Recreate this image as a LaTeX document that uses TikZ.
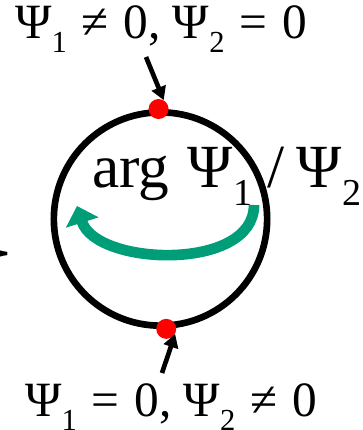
\documentclass[tikz,border=0pt]{standalone}
\usepackage{fontspec}
\setmainfont{Liberation Serif}
\newfontfamily\symbfont{DejaVu Sans}
\usetikzlibrary{positioning, arrows.meta}
\definecolor{phasegreen}{HTML}{009E78}
\definecolor{dotred}{HTML}{FF0000}
\newcommand{\psub}[1]{\raisebox{-0.3em}{\scalebox{0.62}{#1}}}
\newcommand{\rel}[1]{\hspace{0.3em}#1\hspace{0.3em}}

\begin{document}
\begin{tikzpicture}[x=0.75pt, y=-0.75pt,
    pointer/.style={line width=3.5pt, -{Triangle[length=10pt, width=11pt]}},
    state/.style={circle, fill=dotred, inner sep=0pt, minimum size=15pt},
    label text/.style={inner sep=0pt, anchor=base, font=\fontsize{37}{42}\selectfont}]
    \useasboundingbox (0,0) rectangle (362,430);

    \node[circle, draw, line width=5pt, minimum size=160pt, inner sep=0pt] (ring) at (160.5,219) {};
    \node[state] (topdot) at (ring.91) {};
    \node[state] (botdot) at (ring.-87) {};

    \node[label text] (toplabel) at (161,38) {Ψ\psub{1}\rel{≠}0, Ψ\psub{2}\rel{=}0};
    \node[label text] (botlabel) at (171,416) {Ψ\psub{1}\rel{=}0, Ψ\psub{2}\rel{≠}0};
    \node[label text, font=\fontsize{46}{52}\selectfont, anchor=base west] (arglabel) at (92,187)
      {arg\hspace{0.3em}Ψ\psub{1}\hspace{0.25em}/\hspace{0.2em}Ψ\psub{2}};
    \node[label text, anchor=center, font=\symbfont\fontsize{30}{36}\selectfont] (leftket) at (-5,254) {≻};

    \coordinate (toptail) at (146,57);
    \coordinate (bottail) at (162,373);
    \draw[pointer] (toptail) -- (topdot.60);
    \draw[pointer] (bottail) -- (botdot.-30);

    \coordinate (phasestart) at (254,205);
    \coordinate (phaseend) at (77,206);
    \draw[phasegreen, line width=8pt, -{Triangle[length=13pt, width=25pt]}]
      (phasestart) .. controls (254,272) and (96,266) .. (phaseend);
\end{tikzpicture}
\end{document}
